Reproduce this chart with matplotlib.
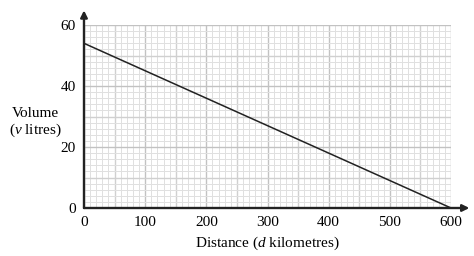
import matplotlib

matplotlib.use("Agg")
import matplotlib.pyplot as plt

# Datos de la recta: volumen de combustible vs distancia
distancia = [0, 600]
volumen = [54, 0]
ticks_x = [0, 100, 200, 300, 400, 500, 600]
ticks_y = [0, 20, 40, 60]

plt.rcParams["font.family"] = "Liberation Serif"
plt.rcParams["mathtext.fontset"] = "custom"
plt.rcParams["mathtext.it"] = "Liberation Serif:italic"
plt.rcParams["mathtext.rm"] = "Liberation Serif"

fig = plt.figure(figsize=(4.74, 2.56), dpi=100)
ax = fig.add_axes([0.1772, 0.1875, 0.7743, 0.7148])
ax.set_xlim(0, 600)
ax.set_ylim(0, 60)

# papel milimetrado: fino, medio y grueso
for x in range(0, 601, 10):
    c = "#c2c2c2" if x % 100 == 0 else ("#d0d0d0" if x % 50 == 0 else "#e0e0e0")
    ax.axvline(x, color=c, lw=1.0 if x % 50 == 0 else 0.7, zorder=0)
for y in range(0, 61, 2):
    c = "#c2c2c2" if y % 20 == 0 else ("#d0d0d0" if y % 10 == 0 else "#e0e0e0")
    ax.axhline(y, color=c, lw=1.0 if y % 10 == 0 else 0.7, zorder=0)

ax.plot(distancia, volumen, color="#222222", lw=1.1, zorder=3)

for s in ["top", "right", "left", "bottom"]:
    ax.spines[s].set_visible(False)

# ejes con flecha
ax.annotate("", xy=(0, 1.08), xytext=(0, 0), xycoords="axes fraction",
            arrowprops=dict(arrowstyle="-|>", color="#222222", lw=1.7,
                            mutation_scale=10, shrinkA=0, shrinkB=0))
ax.annotate("", xy=(1.05, 0), xytext=(0, 0), xycoords="axes fraction",
            arrowprops=dict(arrowstyle="-|>", color="#222222", lw=1.7,
                            mutation_scale=10, shrinkA=0, shrinkB=0))

ax.set_xticks(ticks_x)
ax.set_yticks(ticks_y)
ax.tick_params(length=0, labelsize=11, pad=6)

fig.text(0.074, 0.557, "Volume", ha="center", va="center", fontsize=11)
fig.text(0.074, 0.49, "($v$ litres)", ha="center", va="center", fontsize=11)
ax.set_xlabel("Distance ($d$ kilometres)", fontsize=11, labelpad=4)

fig.savefig("out.png", dpi=100)
